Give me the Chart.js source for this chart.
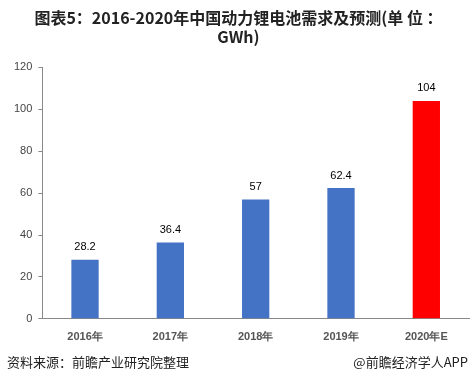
<!DOCTYPE html>
<html><head><meta charset="utf-8">
<script src="https://cdn.jsdelivr.net/npm/chart.js@4/dist/chart.umd.min.js"></script>
<style>html,body{margin:0;padding:0;background:#fff;}#wrap{width:471px;height:383px;position:relative;}</style>
</head><body><div id="wrap"><canvas id="c" width="471" height="383"></canvas></div>
<script>
const categories = ['2016年','2017年','2018年','2019年','2020年E'];
const demand = [28.2, 36.4, 57, 62.4, 104];
const barColors = ['#4472C4','#4472C4','#4472C4','#4472C4','#FF0000'];
const yTicks = [0,20,40,60,80,100,120];
const titleLines = ['图表5：2016-2020年中国动力锂电池需求及预测(单 位 ：','GWh)'];
const sourceText = '资料来源：前瞻产业研究院整理';
const brandText = '@前瞻经济学人APP';

const labelPlugin = {
  id:'labels',
  afterDatasetsDraw(chart){
    const ctx = chart.ctx;
    const meta = chart.getDatasetMeta(0);
    ctx.save();
    ctx.font = '11px "Liberation Sans", Arial, sans-serif';
    ctx.fillStyle = '#000';
    ctx.textAlign = 'center';
    ctx.textBaseline = 'bottom';
    meta.data.forEach((bar,i)=>{
      ctx.fillText(String(demand[i]), bar.x, bar.y - 7);
    });
    ctx.restore();
  },
  afterDraw(chart){
    const ctx = chart.ctx;
    ctx.save();
    ctx.font = '13px "Noto Sans CJK SC", sans-serif';
    ctx.fillStyle = '#222';
    ctx.textBaseline = 'middle';
    ctx.textAlign = 'left';
    ctx.fillText(sourceText, 7, 362);
    ctx.textAlign = 'right';
    ctx.fillText(brandText, 468, 362);
    ctx.restore();
  }
};

new Chart(document.getElementById('c'), {
  type:'bar',
  data:{labels:categories, datasets:[{data:demand, backgroundColor:barColors, barPercentage:0.64, categoryPercentage:0.5}]},
  options:{
    responsive:false, animation:false,
    layout:{padding:{left:8,right:2,top:0,bottom:35}},
    plugins:{
      legend:{display:false}, tooltip:{enabled:false},
      title:{display:true, text:titleLines, color:'#222', font:{family:'"Noto Sans CJK SC", sans-serif', size:16, weight:'bold', lineHeight:1.2}, padding:{top:8,bottom:21}}
    },
    scales:{
      x:{grid:{display:false}, border:{color:'#888'},
         ticks:{color:'#555', font:{family:'"Liberation Sans", Arial, sans-serif', size:11, weight:'bold'}, padding:4}},
      y:{min:0,max:120, afterBuildTicks(ax){ax.ticks = yTicks.map(v=>({value:v}));},
         grid:{drawOnChartArea:false, drawTicks:true, tickLength:4, color:'#888'}, border:{color:'#888'},
         ticks:{color:'#444', font:{family:'"Liberation Sans", Arial, sans-serif', size:11}, padding:6}}
    }
  },
  plugins:[labelPlugin]
});
</script></body></html>
